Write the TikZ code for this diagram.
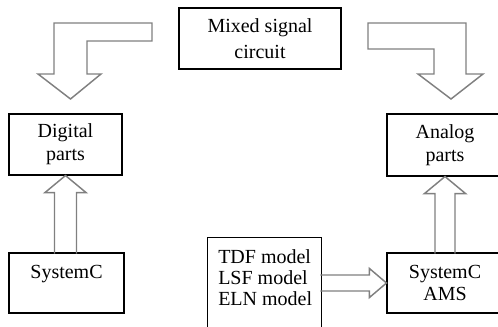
\documentclass[tikz,border=0pt]{standalone}
\usepackage{fontspec}
\setmainfont{Liberation Serif}
\usetikzlibrary{calc}
\definecolor{arrowgray}{RGB}{128,128,128}
\begin{document}
\begin{tikzpicture}[x=0.75pt,y=-0.75pt,
  box/.style={draw=black, line width=0.8pt, inner sep=0pt, align=center,
    font=\fontsize{15}{17}\selectfont},
  blockarrow/.style={draw=arrowgray, line width=1.1pt, line join=miter},
]
\useasboundingbox (0,0) rectangle (498,327);
\clip (0,0) rectangle (498,327);

% boxes
\node[box, minimum width=121.5pt, minimum height=45.75pt,
  font=\fontsize{15}{19}\selectfont] (mix) at (260,38.5) {Mixed signal\\circuit};
\node[box, minimum width=84.75pt, minimum height=45.75pt] (dig) at (65.5,144.5) {Digital\\parts};
\node[box, minimum width=87pt, minimum height=46.5pt] (anl) at (445,145) {Analog\\parts};
\node[box, minimum width=86.25pt, minimum height=45pt] (sysc) at (66.5,283) {SystemC\\~};
\node[box, minimum width=87pt, minimum height=45pt] (sama) at (445,283) {SystemC\\AMS};
\node[box, anchor=north west, minimum width=85.5pt, minimum height=81pt] (tdf) at (207,237) {};
\node[anchor=north west, inner sep=0pt, align=left,
  font=\fontsize{15}{16}\selectfont] (tdftext) at (218,249) {TDF model\\LSF model\\ELN model};

% bent block arrows from the top box
\draw[blockarrow] (54,23) -- (152,23) -- (152,41) -- (87,41) -- (87,74) -- (101,74)
  -- (70.5,99) -- (38,74) -- (54,74) -- cycle;
\draw[blockarrow] (368,23) -- (466,23) -- (466,74) -- (483,74) -- (451,99)
  -- (418,74) -- (434,74) -- (434,49) -- (368,49) -- cycle;

% SystemC -> Digital parts
\draw[blockarrow] ($(dig.south)+(11,78)$) -- ++(0,-61) -- ++(9.5,0) -- (dig.south)
  -- ++(-20.5,17) -- ++(9.5,0) -- ++(0,61);
% SystemC AMS -> Analog parts
\draw[blockarrow] ($(anl.south)+(10,77)$) -- ++(0,-60) -- ++(10.5,0) -- (anl.south)
  -- ++(-20.5,17) -- ++(10.5,0) -- ++(0,60);
% models -> SystemC AMS
\draw[blockarrow] ($(sama.west)+(-66,-8)$) -- ++(49,0) -- ++(0,-6.5) -- (sama.west)
  -- ++(-17,14.5) -- ++(0,-6.5) -- ++(-49,0);
\end{tikzpicture}
\end{document}
